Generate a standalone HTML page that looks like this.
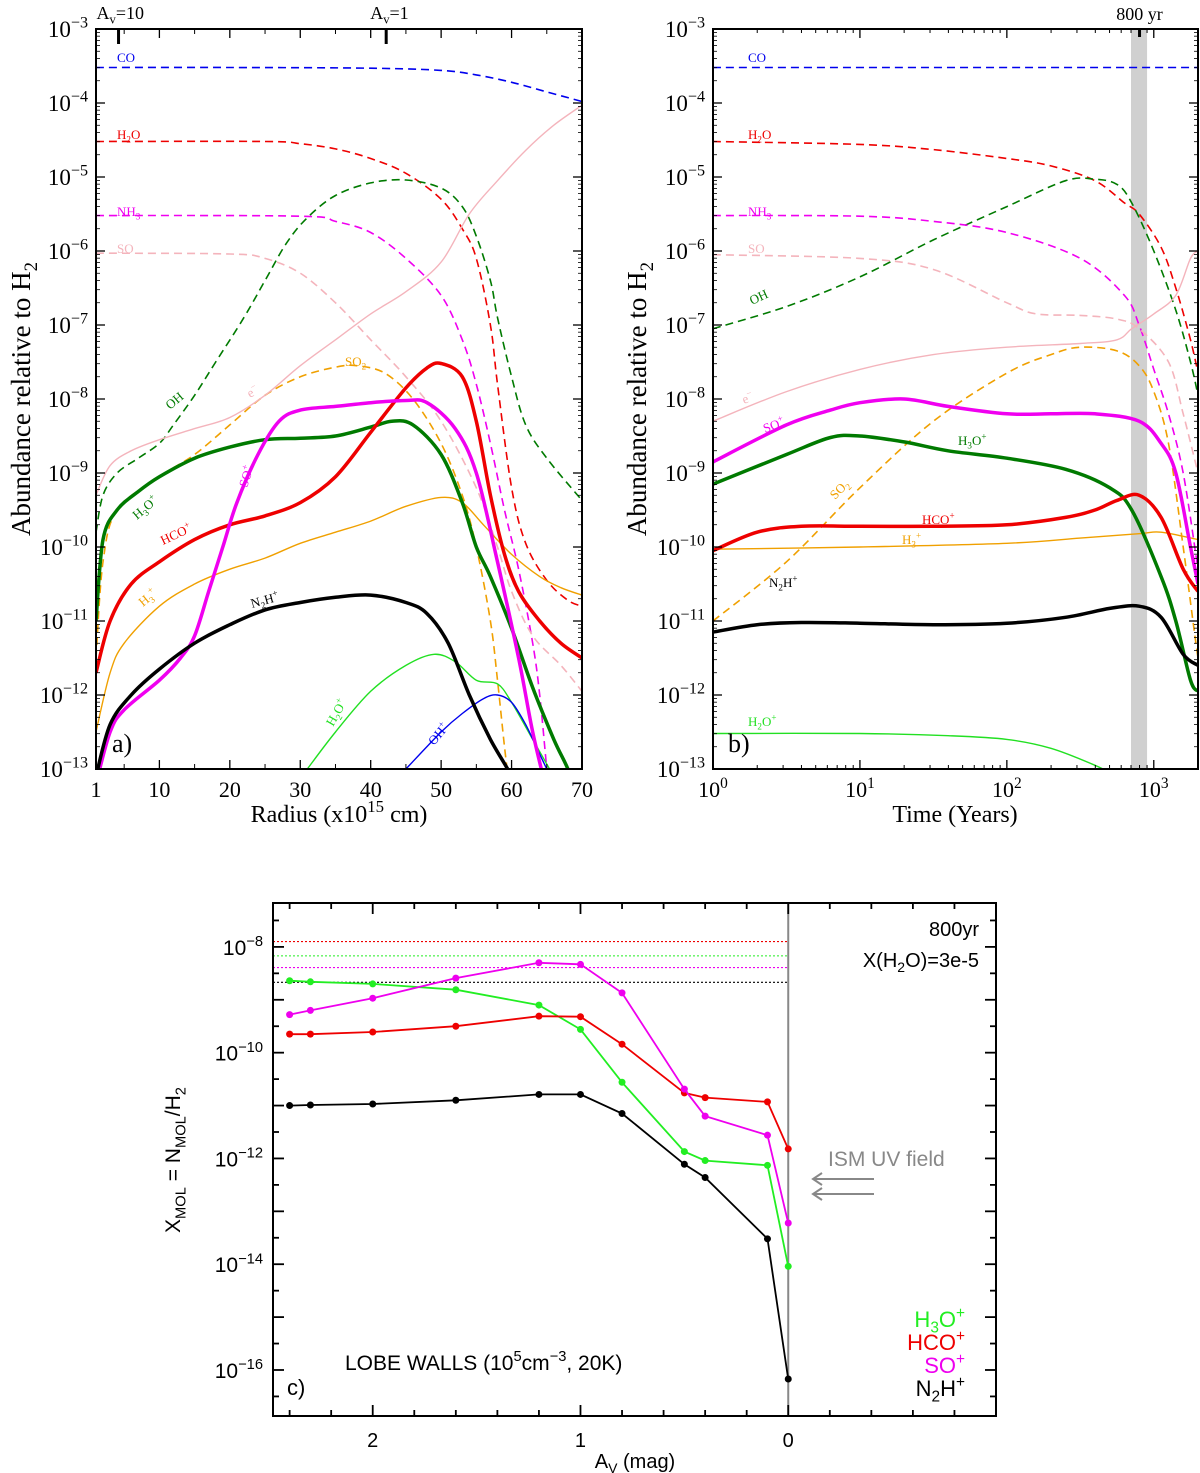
<!DOCTYPE html>
<html><head><meta charset="utf-8"><style>
body{margin:0;background:#fff}
svg{display:block}
.serif{font-family:"Liberation Serif",serif}
.sans{font-family:"Liberation Sans",sans-serif}
</style></head>
<body>
<svg id="fig" width="1200" height="1473" viewBox="0 0 1200 1473" xmlns="http://www.w3.org/2000/svg">
<defs>
<clipPath id="clipA"><rect x="96" y="29" width="486" height="740"/></clipPath>
<clipPath id="clipB"><rect x="713" y="29" width="485" height="740"/></clipPath>
<clipPath id="clipC"><rect x="273" y="903" width="723" height="513"/></clipPath>
</defs>
</svg>
<script>
// ---------- Panel a data: [radius (1e15 cm), log10 abundance] ----------
const a_CO=[[1,-3.52],[20,-3.52],[40,-3.53],[50,-3.56],[55,-3.62],[60,-3.72],[65,-3.85],[70,-3.98]];
const a_H2O=[[1,-4.52],[25,-4.52],[30,-4.55],[35,-4.62],[40,-4.75],[45,-4.95],[50,-5.3],[53,-5.7],[55,-6.1],[57,-7.0],[58,-7.8],[60,-9.2],[62,-9.95],[65,-10.45],[68,-10.72],[70,-10.8]];
const a_OH=[[1,-9.8],[2,-9.3],[4,-9.0],[7,-8.8],[10,-8.6],[12,-8.35],[15,-7.95],[18,-7.5],[22,-6.9],[25,-6.4],[28,-5.9],[31,-5.55],[35,-5.25],[40,-5.08],[45,-5.04],[50,-5.15],[53,-5.4],[55,-5.8],[57,-6.4],[58,-6.9],[60,-7.7],[62,-8.35],[65,-8.8],[70,-9.37]];
const a_NH3=[[1,-5.52],[30,-5.53],[35,-5.6],[40,-5.75],[45,-6.1],[50,-6.6],[53,-7.2],[55,-7.8],[57,-8.6],[59,-9.5],[61,-10.3],[63,-11.3],[64,-12.0],[65,-13.0],[66,-14]];
const a_SO=[[1,-6.03],[20,-6.04],[25,-6.1],[30,-6.3],[35,-6.7],[40,-7.2],[45,-7.7],[50,-8.3],[55,-9.2],[58,-10.0],[60,-10.6],[63,-11.2],[67,-11.6],[70,-11.95]];
const a_SO2=[[1,-11.5],[2,-10.2],[4,-9.5],[10,-9.05],[15,-8.75],[20,-8.35],[25,-7.95],[30,-7.7],[35,-7.57],[38,-7.55],[42,-7.65],[46,-8.0],[50,-8.6],[53,-9.3],[55,-10.0],[57,-11.0],[58,-11.8],[59,-12.7],[60,-13.5]];
const a_e=[[1,-9.3],[3,-8.9],[6,-8.7],[10,-8.55],[15,-8.4],[20,-8.25],[25,-7.95],[30,-7.55],[35,-7.2],[40,-6.85],[45,-6.55],[50,-6.15],[54,-5.5],[58,-5.05],[62,-4.64],[66,-4.3],[70,-4.03]];
const a_H3Op=[[1,-11.0],[2,-9.9],[4,-9.5],[7,-9.25],[10,-9.05],[15,-8.8],[20,-8.65],[25,-8.55],[30,-8.53],[35,-8.5],[40,-8.38],[43,-8.3],[46,-8.35],[50,-8.75],[53,-9.4],[55,-10.0],[57,-10.4],[60,-11.1],[63,-11.9],[66,-12.6],[68,-13.0],[69,-13.3]];
const a_HCOp=[[1,-11.7],[3,-11.0],[6,-10.5],[10,-10.2],[15,-9.9],[20,-9.7],[25,-9.58],[30,-9.4],[35,-9.05],[40,-8.45],[45,-7.85],[48,-7.58],[50,-7.52],[53,-7.7],[55,-8.3],[57,-9.3],[59,-10.1],[61,-10.6],[64,-11.0],[67,-11.3],[70,-11.5]];
const a_SOp=[[1,-13.2],[3,-12.5],[5,-12.2],[10,-11.8],[13,-11.5],[15,-11.2],[17,-10.6],[19,-10.0],[21,-9.4],[24,-8.75],[27,-8.3],[30,-8.15],[35,-8.1],[40,-8.05],[45,-8.02],[48,-8.05],[52,-8.4],[55,-9.0],[58,-10.2],[61,-11.5],[63,-12.5],[65,-13.3]];
const a_N2Hp=[[1,-13.1],[3,-12.4],[6,-12.0],[10,-11.65],[15,-11.3],[20,-11.05],[25,-10.85],[30,-10.75],[35,-10.68],[40,-10.65],[45,-10.75],[48,-10.9],[51,-11.3],[54,-12.0],[57,-12.6],[60,-13.1],[61,-13.4]];
const a_H3p=[[1,-12.5],[3,-11.7],[5,-11.3],[10,-10.8],[15,-10.5],[20,-10.3],[25,-10.15],[30,-9.95],[35,-9.8],[40,-9.65],[45,-9.45],[50,-9.33],[53,-9.4],[56,-9.7],[60,-10.1],[64,-10.4],[67,-10.55],[70,-10.65]];
const a_H2Op=[[31,-13.0],[35,-12.5],[40,-11.95],[45,-11.6],[49,-11.45],[52,-11.55],[55,-11.8],[58,-11.85],[60,-12.1],[63,-12.6],[66,-13.1]];
const a_OHp=[[45,-13.0],[50,-12.5],[53,-12.25],[56,-12.05],[58,-12.0],[60,-12.1],[62,-12.4],[64,-12.8],[65.5,-13.1]];

// ---------- Panel b data: [log10 time (yr), log10 abundance] ----------
const b_CO=[[0,-3.52],[3.301,-3.52]];
const b_H2O=[[0,-4.52],[1,-4.56],[1.5,-4.63],[2,-4.75],[2.3,-4.85],[2.6,-5.05],[2.8,-5.35],[2.9,-5.5],[3.05,-5.95],[3.15,-6.5],[3.25,-7.2],[3.301,-7.65]];
const b_OH=[[0,-7.05],[0.5,-6.75],[1,-6.35],[1.5,-5.85],[2,-5.4],[2.4,-5.05],[2.6,-5.03],[2.75,-5.1],[2.85,-5.35],[3.0,-6.0],[3.15,-6.8],[3.25,-7.5],[3.301,-7.95]];
const b_NH3=[[0,-5.52],[1,-5.53],[1.5,-5.6],[2,-5.75],[2.5,-6.1],[2.8,-6.6],[2.9,-7.0],[3.0,-7.6],[3.1,-8.2],[3.2,-9.0],[3.301,-10.3]];
const b_SO=[[0,-6.05],[1,-6.1],[1.5,-6.25],[2,-6.7],[2.2,-6.85],[2.5,-6.87],[2.75,-6.92],[2.9,-7.05],[3.1,-7.5],[3.2,-8.2],[3.301,-9.0]];
const b_e=[[0,-8.3],[0.5,-7.9],[1,-7.6],[1.5,-7.4],[2,-7.3],[2.5,-7.25],[2.75,-7.2],[2.85,-7.05],[3.0,-6.85],[3.15,-6.6],[3.25,-6.1],[3.301,-6.0]];
const b_SO2=[[0,-11.0],[0.5,-10.2],[1,-9.2],[1.5,-8.3],[2,-7.65],[2.3,-7.4],[2.5,-7.3],[2.75,-7.35],[2.9,-7.55],[3.0,-7.9],[3.1,-8.6],[3.2,-10.0],[3.28,-11.2],[3.301,-11.5]];
const b_SOp=[[0,-8.85],[0.5,-8.35],[0.8,-8.15],[1,-8.05],[1.3,-8.0],[1.6,-8.1],[2,-8.2],[2.3,-8.2],[2.6,-8.2],[2.9,-8.3],[3.05,-8.6],[3.15,-9.0],[3.25,-10.0],[3.301,-10.5]];
const b_H3Op=[[0,-9.15],[0.5,-8.75],[0.8,-8.52],[1,-8.5],[1.3,-8.58],[1.6,-8.7],[2,-8.8],[2.4,-8.95],[2.7,-9.2],[2.85,-9.5],[3.05,-10.4],[3.15,-11.0],[3.25,-11.8],[3.301,-11.95]];
const b_HCOp=[[0,-10.05],[0.3,-9.8],[0.6,-9.72],[1,-9.72],[1.5,-9.72],[2,-9.7],[2.4,-9.6],[2.6,-9.5],[2.75,-9.37],[2.9,-9.3],[3.05,-9.6],[3.2,-10.3],[3.301,-10.6]];
const b_H3p=[[0,-10.03],[1,-10.0],[2,-9.95],[2.5,-9.88],[2.9,-9.82],[3.05,-9.8],[3.301,-9.9]];
const b_N2Hp=[[0,-11.15],[0.3,-11.05],[0.6,-11.02],[1,-11.03],[1.5,-11.05],[2,-11.03],[2.4,-10.95],[2.7,-10.83],[2.9,-10.8],[3.05,-10.95],[3.2,-11.45],[3.301,-11.6]];
const b_H2Op=[[0,-12.52],[1,-12.52],[1.6,-12.55],[2,-12.6],[2.3,-12.72],[2.6,-12.95],[2.75,-13.1]];

// ---------- Panel c data ----------
const c_Av=[2.4,2.3,2.0,1.6,1.2,1.0,0.8,0.5,0.4,0.1,0.0];
const c_H3Op=[-8.64,-8.66,-8.70,-8.81,-9.10,-9.56,-10.56,-11.87,-12.04,-12.13,-14.04];
const c_HCOp=[-9.65,-9.65,-9.61,-9.50,-9.31,-9.32,-9.84,-10.76,-10.85,-10.93,-11.82];
const c_SOp=[-9.28,-9.20,-8.97,-8.59,-8.30,-8.33,-8.87,-10.69,-11.20,-11.56,-13.22];
const c_N2Hp=[-11.0,-10.99,-10.97,-10.90,-10.79,-10.79,-11.15,-12.11,-12.36,-13.52,-16.17];
const c_obsNames=["HCO+","H3O+","SO+","N2H+"];
const c_obs=[-7.9,-8.17,-8.39,-8.67];

const NS="http://www.w3.org/2000/svg";
const svg=document.getElementById('fig');
function el(tag,attrs,parent){const e=document.createElementNS(NS,tag);for(const k in attrs)e.setAttribute(k,attrs[k]);(parent||svg).appendChild(e);return e;}

const A={x0:96,x1:582,y0:29,y1:769,xmin:1,xmax:70,ymin:-13,ymax:-3};
const B={x0:713,x1:1198,y0:29,y1:769,xmin:0,xmax:3.301,ymin:-13,ymax:-3};
const C={x0:273,x1:996,y0:903,y1:1416,xmin:2.48,xmax:-1.0,ymin:-16.87,ymax:-7.17};
function sx(P,v){return P.x0+(v-P.xmin)/(P.xmax-P.xmin)*(P.x1-P.x0);}
function sy(P,v){return P.y1-(v-P.ymin)/(P.ymax-P.ymin)*(P.y1-P.y0);}

function smoothPath(pts){
  let d='M'+pts[0][0].toFixed(1)+','+pts[0][1].toFixed(1);
  for(let i=0;i<pts.length-1;i++){
    const p0=pts[i-1]||pts[i],p1=pts[i],p2=pts[i+1],p3=pts[i+2]||p2;
    const c1=[p1[0]+(p2[0]-p0[0])/6,p1[1]+(p2[1]-p0[1])/6];
    const c2=[p2[0]-(p3[0]-p1[0])/6,p2[1]-(p3[1]-p1[1])/6];
    d+=' C'+c1[0].toFixed(1)+','+c1[1].toFixed(1)+' '+c2[0].toFixed(1)+','+c2[1].toFixed(1)+' '+p2[0].toFixed(1)+','+p2[1].toFixed(1);
  }
  return d;
}
function curve(P,data,clip,color,w,dash,name){
  const pts=data.map(p=>[sx(P,p[0]),sy(P,p[1])]);
  const e=el('path',{d:smoothPath(pts),fill:'none',stroke:color,'stroke-width':w,'clip-path':'url(#'+clip+')','stroke-linejoin':'round'});
  if(dash)e.setAttribute('stroke-dasharray',dash);
  
  
  return e;
}
function rich(x,y,parts,opts,name){
  const t=el('text',{x:x,y:y,'font-size':opts.size,fill:opts.color||'#000','text-anchor':opts.anchor||'start','class':opts.cls||'serif'});
  if(opts.rot)t.setAttribute('transform','rotate('+opts.rot+' '+x+' '+y+')');
  for(const p of parts){
    const s=el('tspan',{},t);s.textContent=p[0];
    if(p[1]==='sup'){s.setAttribute('dy',-opts.size*0.42);s.setAttribute('font-size',opts.size*0.7);}
    else if(p[1]==='sub'){s.setAttribute('dy',opts.size*0.25);s.setAttribute('font-size',opts.size*0.7);}
    if(p[1]){const r=el('tspan',{},t);r.textContent='\u200b';r.setAttribute('dy',p[1]==='sup'?opts.size*0.42:-opts.size*0.25);}
  }
  
  
  return t;
}

const DK='#007a00',RED='#ee0000',BLU='#0000ee',MAG='#f000f0',PNK='#f4b4bc',ORG='#f0a000',LIM='#22e022';

function logYTicks(P,name,labels){
  for(let d=P.ymin;d<=P.ymax;d++){
    const y=sy(P,d);
    const l=el('line',{x1:P.x0,x2:P.x0+9,y1:y,y2:y,stroke:'#000','stroke-width':1.3});
    
    el('line',{x1:P.x1,x2:P.x1-9,y1:y,y2:y,stroke:'#000','stroke-width':1.3});
    if(labels)rich(P.x0-8,y+8,[['10',''],['\u2212'+(-d),'sup']],{size:23,anchor:'end'},name+'-ytick-label');
    if(d<P.ymax)for(let m=2;m<=9;m++){const ym=sy(P,d+Math.log10(m));
      el('line',{x1:P.x0,x2:P.x0+4,y1:ym,y2:ym,stroke:'#000','stroke-width':0.8});
      el('line',{x1:P.x1,x2:P.x1-4,y1:ym,y2:ym,stroke:'#000','stroke-width':0.8});}
  }
}
(function(){
  const P=A;
  curve(P,a_CO,'clipA',BLU,1.6,'8,5','series-co');
  curve(P,a_H2O,'clipA',RED,1.6,'8,5','series-h2o');
  curve(P,a_OH,'clipA',DK,1.6,'8,5','series-oh');
  curve(P,a_NH3,'clipA',MAG,1.6,'8,5','series-nh3');
  curve(P,a_SO,'clipA',PNK,1.6,'8,5','series-so');
  curve(P,a_SO2,'clipA',ORG,1.6,'8,5','series-so2');
  curve(P,a_e,'clipA',PNK,1.4,null,'series-electron');
  curve(P,a_H3p,'clipA',ORG,1.4,null,'series-h3p');
  curve(P,a_H2Op,'clipA',LIM,1.4,null,'series-h2op');
  curve(P,a_OHp,'clipA',BLU,1.4,null,'series-ohp');
  curve(P,a_H3Op,'clipA',DK,3.5,null,'series-h3op');
  curve(P,a_HCOp,'clipA',RED,3.5,null,'series-hcop');
  curve(P,a_SOp,'clipA',MAG,3.5,null,'series-sop');
  curve(P,a_N2Hp,'clipA',"#000",3.5,null,'series-n2hp');
  const f=el('rect',{x:P.x0,y:P.y0,width:P.x1-P.x0,height:P.y1-P.y0,fill:'none',stroke:'#000','stroke-width':2});
  
  logYTicks(P,'panel-a',true);
  const xt=[1,10,20,30,40,50,60,70];
  for(const v of xt){const x=sx(P,v);
    el('line',{x1:x,x2:x,y1:P.y1,y2:P.y1-9,stroke:'#000','stroke-width':1.3});
    el('line',{x1:x,x2:x,y1:P.y0,y2:P.y0+9,stroke:'#000','stroke-width':1.3});
    const t=el('text',{x:x,y:P.y1+28,'font-size':22,'text-anchor':'middle','class':'serif'});t.textContent=v;
    }
  for(let v=5;v<70;v+=10){const x=sx(P,v);el('line',{x1:x,x2:x,y1:P.y1,y2:P.y1-5,stroke:'#000'});el('line',{x1:x,x2:x,y1:P.y0,y2:P.y0+5,stroke:'#000'});}
  for(const [v,lab] of [[4.2,'10'],[42.2,'1']]){const x=sx(P,v);
    el('line',{x1:x,x2:x,y1:P.y0,y2:P.y0+15,stroke:'#000','stroke-width':3});
    rich(x-22+(lab==='1'?6:0),19,[['A',''],['v','sub'],['='+lab,'']],{size:18},'av-marker-label');}
  rich(339,822,[['Radius (x10',''],['15','sup'],[' cm)','']],{size:24,anchor:'middle'},'panel-a-x-axis-title');
  rich(30,399,[['Abundance relative to H',''],['2','sub']],{size:27,anchor:'middle',rot:-90},'panel-a-y-axis-title');
  rich(112,752,[['a)','']],{size:26},'panel-a-label');
  const L=(x,y,p,c,rot,n)=>rich(x,y,p,{size:13,color:c,rot:rot},n);
  L(117,62,[['CO','']],BLU,0,'label-co');
  L(117,139,[['H',''],['2','sub'],['O','']],RED,0,'label-h2o');
  L(117,216,[['NH',''],['3','sub']],MAG,0,'label-nh3');
  L(117,253,[['SO','']],PNK,0,'label-so');
  L(170,410,[['OH','']],DK,-40,'label-oh');
  L(250,398,[['e',''],['\u2212','sup']],PNK,-30,'label-e');
  L(345,366,[['SO',''],['2','sub']],ORG,0,'label-so2');
  L(137,520,[['H',''],['3','sub'],['O',''],['+','sup']],DK,-40,'label-h3op');
  L(163,545,[['HCO',''],['+','sup']],RED,-25,'label-hcop');
  L(143,607,[['H',''],['3','sub'],['+','sup']],ORG,-40,'label-h3p');
  L(252,608,[['N',''],['2','sub'],['H',''],['+','sup']],"#000",-15,'label-n2hp');
  L(247,488,[['SO',''],['+','sup']],MAG,-72,'label-sop');
  L(333,727,[['H',''],['2','sub'],['O',''],['+','sup']],LIM,-60,'label-h2op');
  L(434,746,[['OH',''],['+','sup']],BLU,-50,'label-ohp');
})();

(function(){
  const P=B;
  const band=el('rect',{x:sx(P,Math.log10(700)),y:P.y0,width:sx(P,Math.log10(900))-sx(P,Math.log10(700)),height:P.y1-P.y0,fill:'#d0d0d0'});
  
  curve(P,b_CO,'clipB',BLU,1.6,'8,5','series-co');
  curve(P,b_H2O,'clipB',RED,1.6,'8,5','series-h2o');
  curve(P,b_OH,'clipB',DK,1.6,'8,5','series-oh');
  curve(P,b_NH3,'clipB',MAG,1.6,'8,5','series-nh3');
  curve(P,b_SO,'clipB',PNK,1.6,'8,5','series-so');
  curve(P,b_SO2,'clipB',ORG,1.6,'8,5','series-so2');
  curve(P,b_e,'clipB',PNK,1.4,null,'series-electron');
  curve(P,b_H3p,'clipB',ORG,1.4,null,'series-h3p');
  curve(P,b_H2Op,'clipB',LIM,1.4,null,'series-h2op');
  curve(P,b_SOp,'clipB',MAG,3.5,null,'series-sop');
  curve(P,b_H3Op,'clipB',DK,3.5,null,'series-h3op');
  curve(P,b_HCOp,'clipB',RED,3.5,null,'series-hcop');
  curve(P,b_N2Hp,'clipB',"#000",3.5,null,'series-n2hp');
  const f=el('rect',{x:P.x0,y:P.y0,width:P.x1-P.x0,height:P.y1-P.y0,fill:'none',stroke:'#000','stroke-width':2});
  
  logYTicks(P,'panel-b',true);
  for(let d=0;d<=3;d++){const x=sx(P,d);
    el('line',{x1:x,x2:x,y1:P.y1,y2:P.y1-9,stroke:'#000','stroke-width':1.3});
    el('line',{x1:x,x2:x,y1:P.y0,y2:P.y0+9,stroke:'#000','stroke-width':1.3});
    rich(x,P.y1+28,[['10',''],[String(d),'sup']],{size:22,anchor:'middle'},'panel-b-xtick-label');
    for(let m=2;m<=9;m++){const v=d+Math.log10(m);if(v>P.xmax)break;const xm=sx(P,v);
      el('line',{x1:xm,x2:xm,y1:P.y1,y2:P.y1-4,stroke:'#000'});el('line',{x1:xm,x2:xm,y1:P.y0,y2:P.y0+4,stroke:'#000'});}}
  const x8=sx(P,Math.log10(800));
  el('line',{x1:x8,x2:x8,y1:P.y0,y2:P.y0+8,stroke:'#000','stroke-width':3});
  rich(x8,20,[['800 yr','']],{size:18,anchor:'middle'},'800yr-marker-label');
  rich(955,822,[['Time (Years)','']],{size:24,anchor:'middle'},'panel-b-x-axis-title');
  rich(646,399,[['Abundance relative to H',''],['2','sub']],{size:27,anchor:'middle',rot:-90},'panel-b-y-axis-title');
  rich(728,752,[['b)','']],{size:26},'panel-b-label');
  const L=(x,y,p,c,rot,n)=>rich(x,y,p,{size:13,color:c,rot:rot},n);
  L(748,62,[['CO','']],BLU,0,'label-co');
  L(748,139,[['H',''],['2','sub'],['O','']],RED,0,'label-h2o');
  L(748,216,[['NH',''],['3','sub']],MAG,0,'label-nh3');
  L(748,253,[['SO','']],PNK,0,'label-so');
  L(752,305,[['OH','']],DK,-25,'label-oh');
  L(744,404,[['e',''],['\u2212','sup']],PNK,-20,'label-e');
  L(765,433,[['SO',''],['+','sup']],MAG,-20,'label-sop');
  L(958,445,[['H',''],['3','sub'],['O',''],['+','sup']],DK,0,'label-h3op');
  L(835,500,[['SO',''],['2','sub']],ORG,-45,'label-so2');
  L(922,524,[['HCO',''],['+','sup']],RED,0,'label-hcop');
  L(902,544,[['H',''],['3','sub'],['+','sup']],ORG,0,'label-h3p');
  L(769,587,[['N',''],['2','sub'],['H',''],['+','sup']],"#000",0,'label-n2hp');
  L(748,726,[['H',''],['2','sub'],['O',''],['+','sup']],LIM,0,'label-h2op');
})();

(function(){
  const P=C;
  const cols={"HCO+":RED,"H3O+":'#22ee22',"SO+":'#ee00ee',"N2H+":'#000'};
  c_obs.forEach((v,i)=>{const y=sy(P,v);
    const l=el('line',{x1:P.x0,x2:sx(P,0),y1:y,y2:y,stroke:cols[c_obsNames[i]],'stroke-width':1.1,'stroke-dasharray':'2,2'});
    
    });
  const vl=el('line',{x1:sx(P,0),x2:sx(P,0),y1:P.y0,y2:P.y1,stroke:'#888','stroke-width':2});
  
  const series=[['H3O+',c_H3Op,'#22ee22'],['HCO+',c_HCOp,RED],['SO+',c_SOp,'#ee00ee'],['N2H+',c_N2Hp,'#000']];
  for(const [n,vals,col] of series){
    const pts=c_Av.map((a,i)=>sx(P,a).toFixed(1)+','+sy(P,vals[i]).toFixed(1)).join(' ');
    const pl=el('polyline',{points:pts,fill:'none',stroke:col,'stroke-width':1.8,'clip-path':'url(#clipC)'});
    
    
    c_Av.forEach((a,i)=>{const c=el('circle',{cx:sx(P,a),cy:sy(P,vals[i]),r:3.5,fill:col});
      
      });
  }
  const f=el('rect',{x:P.x0,y:P.y0,width:P.x1-P.x0,height:P.y1-P.y0,fill:'none',stroke:'#000','stroke-width':2});
  
  for(let d=-16.5;d<=-7.5;d+=0.5){const y=sy(P,d);const L=Number.isInteger(d)?11:6;
    el('line',{x1:P.x0,x2:P.x0+L,y1:y,y2:y,stroke:'#000','stroke-width':1.8});
    el('line',{x1:P.x1,x2:P.x1-L,y1:y,y2:y,stroke:'#000','stroke-width':1.8});
    if(Number.isInteger(d)&&d%2===0)rich(P.x0-10,y+8,[['10',''],['\u2212'+(-d),'sup']],{size:21,anchor:'end',cls:'sans'},'panel-c-ytick-label');}
  for(let i=-5;i<=12;i++){const a=i*0.2;if(a>P.xmin)continue;const x=sx(P,a);const L=(i%5===0)?11:6;
    el('line',{x1:x,x2:x,y1:P.y1,y2:P.y1-L,stroke:'#000','stroke-width':1.8});
    el('line',{x1:x,x2:x,y1:P.y0,y2:P.y0+L,stroke:'#000','stroke-width':1.8});
    if(i%5===0&&i>=0){const t=el('text',{x:x,y:P.y1+31,'font-size':20,'text-anchor':'middle','class':'sans'});t.textContent=String(i/5);
      }}
  rich(635,1468,[['A',''],['V','sub'],[' (mag)','']],{size:20,anchor:'middle',cls:'sans'},'panel-c-x-axis-title');
  rich(180,1160,[['X',''],['MOL','sub'],[' = N',''],['MOL','sub'],['/H',''],['2','sub']],{size:21,anchor:'middle',cls:'sans',rot:-90},'panel-c-y-axis-title');
  rich(979,936,[['800yr','']],{size:20,anchor:'end',cls:'sans'},'age-label');
  rich(979,967,[['X(H',''],['2','sub'],['O)=3e-5','']],{size:20,anchor:'end',cls:'sans'},'water-abundance-label');
  rich(828,1166,[['ISM UV field','']],{size:21,color:'#888',cls:'sans'},'ism-uv-label');
  for(const y of [1179,1194]){const p=el('path',{d:'M874,'+y+' H813 M822,'+(y-6)+' L813,'+y+' L822,'+(y+6),fill:'none',stroke:'#888','stroke-width':2});
    }
  rich(345,1370,[['LOBE WALLS (10',''],['5','sup'],['cm',''],['\u22123','sup'],[', 20K)','']],{size:21,cls:'sans'},'lobe-walls-label');
  rich(287,1395,[['c)','']],{size:22,cls:'sans'},'panel-c-label');
  rich(965,1327,[['H',''],['3','sub'],['O',''],['+','sup']],{size:22,anchor:'end',cls:'sans',color:'#22ee22'},'legend-h3op');
  rich(965,1350,[['HCO',''],['+','sup']],{size:22,anchor:'end',cls:'sans',color:RED},'legend-hcop');
  rich(965,1373,[['SO',''],['+','sup']],{size:22,anchor:'end',cls:'sans',color:'#ee00ee'},'legend-sop');
  rich(965,1396,[['N',''],['2','sub'],['H',''],['+','sup']],{size:22,anchor:'end',cls:'sans'},'legend-n2hp');
})();
</script>
</body></html>
